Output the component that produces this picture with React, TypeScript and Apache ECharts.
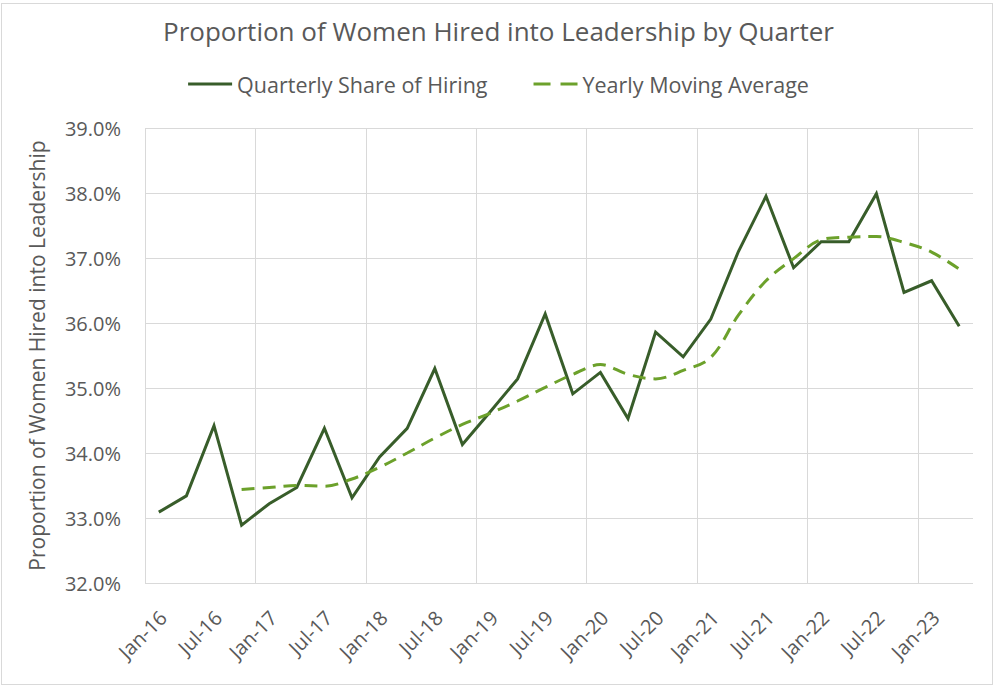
import React, { useEffect, useRef } from "react";
import * as echarts from "echarts";

const quarters = [
  "Q1-16", "Q2-16", "Q3-16", "Q4-16",
  "Q1-17", "Q2-17", "Q3-17", "Q4-17",
  "Q1-18", "Q2-18", "Q3-18", "Q4-18",
  "Q1-19", "Q2-19", "Q3-19", "Q4-19",
  "Q1-20", "Q2-20", "Q3-20", "Q4-20",
  "Q1-21", "Q2-21", "Q3-21", "Q4-21",
  "Q1-22", "Q2-22", "Q3-22", "Q4-22",
  "Q1-23", "Q2-23",
];

const hiringShare = [
  33.09, 33.34, 34.42, 32.89,
  33.22, 33.47, 34.38, 33.31,
  33.94, 34.38, 35.3, 34.13,
  34.63, 35.14, 36.14, 34.91,
  35.24, 34.53, 35.86, 35.48,
  36.06, 37.1, 37.95, 36.85,
  37.25, 37.25, 37.99, 36.47,
  36.65, 35.95,
];

const movingAverage = [
  null, null, null, 33.44,
  33.47, 33.5, 33.49, 33.6,
  33.78, 34.0, 34.23, 34.44,
  34.61, 34.8, 35.01, 35.21,
  35.36, 35.21, 35.14, 35.27,
  35.47, 36.12, 36.65, 36.99,
  37.28, 37.32, 37.33, 37.24,
  37.09, 36.83,
];

const xTickLabels = [
  "Jan-16", "Jul-16", "Jan-17", "Jul-17", "Jan-18", "Jul-18", "Jan-19", "Jul-19",
  "Jan-20", "Jul-20", "Jan-21", "Jul-21", "Jan-22", "Jul-22", "Jan-23",
];

const TITLE = "Proportion of Women Hired into Leadership by Quarter";
const Y_NAME = "Proportion of Women Hired into Leadership";
const SERIES_NAMES = ["Quarterly Share of Hiring", "Yearly Moving Average"];

const FONT = "'Open Sans', Lato, sans-serif";
const TEXT = "#595959";
const GRID = "#d9d9d9";
const DARK = "#385d2a";
const LIGHT = "#6ca12b";

export default function App() {
  const ref = useRef<HTMLDivElement>(null);

  useEffect(() => {
    if (!ref.current) return;
    const chart = echarts.init(ref.current, null, { renderer: "svg" });
    const n = quarters.length;
    chart.setOption({
      animation: false,
      backgroundColor: "#ffffff",
      textStyle: { fontFamily: FONT, color: TEXT },
      title: {
        text: TITLE,
        left: "center",
        top: 13,
        textStyle: { fontFamily: FONT, fontSize: 26, fontWeight: "normal", color: TEXT },
      },
      legend: {
        top: 68,
        left: "center",
        itemWidth: 44,
        itemHeight: 3,
        itemGap: 46,
        textStyle: { fontFamily: FONT, fontSize: 21.5, color: TEXT },
        data: [
          { name: SERIES_NAMES[0], icon: "path://M0,0h44v3h-44z" },
          { name: SERIES_NAMES[1], icon: "path://M0,0h17v3h-17z M27,0h17v3h-17z" },
        ],
      },
      grid: [
        { left: 145, right: 24, top: 128, bottom: 105, containLabel: false },
        { left: 163, width: 828, top: 128, bottom: 105, containLabel: false },
      ],
      xAxis: [
        {
          type: "category",
          gridIndex: 0,
          data: quarters,
          boundaryGap: true,
          axisLine: { show: false },
          axisTick: { show: false },
          axisLabel: { show: false },
          splitLine: { show: false },
        },
        {
          type: "value",
          gridIndex: 1,
          min: 0,
          max: n,
          interval: 2,
          axisLine: { show: false },
          axisTick: { show: false },
          splitLine: { show: false },
          axisLabel: {
            rotate: 45,
            margin: 31,
            fontFamily: FONT,
            fontSize: 20,
            color: TEXT,
            showMaxLabel: false,
            formatter: (v: number) => xTickLabels[Math.round(v / 2)] ?? "",
          },
        },
        {
          type: "value",
          gridIndex: 0,
          min: 0,
          max: n,
          interval: 4,
          axisLine: { show: false },
          axisTick: { show: false },
          axisLabel: { show: false },
          splitLine: { show: true, showMaxLine: false, lineStyle: { color: GRID, width: 1 } },
        },
      ],
      yAxis: [
        {
          type: "value",
          gridIndex: 0,
          min: 32,
          max: 39,
          interval: 1,
          name: Y_NAME,
          nameLocation: "middle",
          nameGap: 98,
          nameTextStyle: { fontFamily: FONT, fontSize: 21, color: TEXT },
          axisLine: { show: false },
          axisTick: { show: false },
          axisLabel: {
            margin: 24,
            fontFamily: FONT,
            fontSize: 20,
            color: TEXT,
            formatter: (v: number) => v.toFixed(1) + "%",
          },
          splitLine: { show: true, lineStyle: { color: GRID, width: 1 } },
        },
        { type: "value", gridIndex: 1, min: 0, max: 1, show: false },
      ],
      series: [
        {
          name: SERIES_NAMES[0],
          type: "line",
          xAxisIndex: 0,
          yAxisIndex: 0,
          data: hiringShare,
          showSymbol: false,
          symbol: "none",
          lineStyle: { color: DARK, width: 3, join: "miter" },
          itemStyle: { color: DARK },
        },
        {
          name: SERIES_NAMES[1],
          type: "line",
          xAxisIndex: 0,
          yAxisIndex: 0,
          data: movingAverage,
          smooth: 0.35,
          showSymbol: false,
          symbol: "none",
          lineStyle: { color: LIGHT, width: 3, type: [13, 8] },
          itemStyle: { color: LIGHT },
        },
      ],
    });
    return () => chart.dispose();
  }, []);

  return (
    <div style={{ position: "absolute", left: 0, top: 0, width: 997, height: 688, background: "#fff" }}>
      <div ref={ref} style={{ position: "absolute", left: 0, top: 0, width: 997, height: 688 }} />
      <div
        style={{
          position: "absolute",
          left: 1,
          top: 3,
          width: 990,
          height: 680,
          border: "1px solid #d9d9d9",
          pointerEvents: "none",
        }}
      />
    </div>
  );
}
